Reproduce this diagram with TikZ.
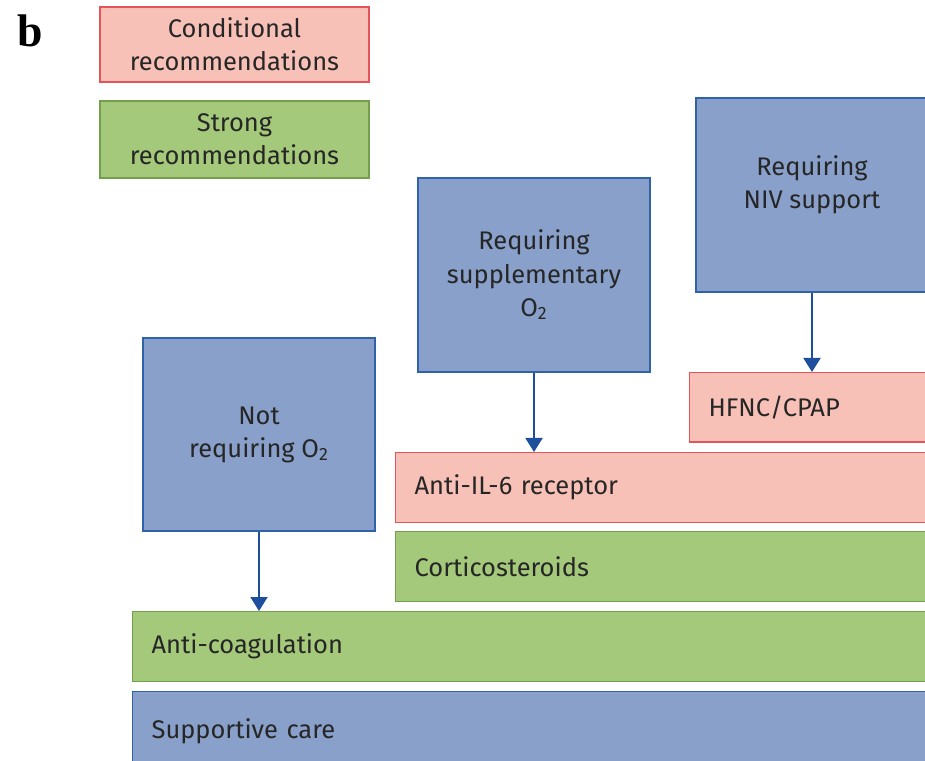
\documentclass[tikz,border=0pt]{standalone}
\usepackage{fontspec}
\setsansfont{Fira Sans}
\newfontfamily\panelfont{Liberation Serif}
\usepackage{tikz}
\usetikzlibrary{arrows.meta, positioning}
\definecolor{CondFill}{HTML}{F8C1B7}
\definecolor{CondLine}{HTML}{E5545A}
\definecolor{StrongFill}{HTML}{A5C97B}
\definecolor{StrongLine}{HTML}{74A04C}
\definecolor{GroupFill}{HTML}{88A0CA}
\definecolor{GroupLine}{HTML}{2F62A8}
\definecolor{ArrowBlue}{HTML}{1E4F9C}
\definecolor{TextDark}{HTML}{262626}

\tikzset{
  box/.style={rectangle, line width=0.7pt, text=TextDark, inner sep=0pt,
    font=\sffamily\fontsize{14.5}{18.8}\selectfont},
  condbox/.style={box, draw=CondLine, fill=CondFill},
  strongbox/.style={box, draw=StrongLine, fill=StrongFill},
  groupbox/.style={box, draw=GroupLine, fill=GroupFill},
  % wide boxes run off the right edge, text on the left
  widebox/.style={anchor=north west, align=left, inner xsep=0.38cm,
    text width=#1, minimum height=1.39cm},
  goesto/.style={draw=ArrowBlue, line width=1.1pt,
    -{Triangle[length=0.28cm, width=0.34cm]}}
}

\begin{document}
\begin{tikzpicture}
  \useasboundingbox (0,0) rectangle (18.5,-15.22);
  \clip (0,0) rectangle (18.5,-15.22);

  % panel letter
  \node (panel) at (0.6,-0.62) {\panelfont\fontsize{26}{28}\selectfont\textbf{b}};

  % key
  \node [condbox, minimum width=5.38cm, minimum height=1.5cm, align=center] (cond) at (4.69,-0.89) {Conditional\\recommendations};
  \node [strongbox, minimum width=5.38cm, minimum height=1.54cm, align=center] (strong) at (4.69,-2.79) {Strong\\recommendations};

  % patient groups
  \node [groupbox, minimum width=4.64cm, minimum height=3.88cm, align=center, text depth=0.5cm] (niv) at (16.24,-3.9) {Requiring\\NIV support};
  \node [groupbox, minimum width=4.64cm, minimum height=3.88cm, align=center] (supp) at (10.68,-5.5) {Requiring\\supplementary\\O\textsubscript{2}};
  \node [groupbox, minimum width=4.64cm, minimum height=3.86cm, align=center] (noox) at (5.18,-8.69) {Not\\requiring O\textsubscript{2}};

  % treatments
  \node [condbox, widebox=4.0cm] (hfnc) at (13.78,-7.44) {HFNC/CPAP};
  \node [condbox, widebox=10.0cm] (il6) at (7.9,-9.04) {Anti-IL-6 receptor};
  \node [strongbox, widebox=10.0cm] (cort) at (7.9,-10.62) {Corticosteroids};
  \node [strongbox, widebox=15.2cm] (coag) at (2.64,-12.22) {Anti-coagulation};
  \node [groupbox, widebox=15.2cm, minimum height=1.6cm] (care) at (2.64,-13.82) {Supportive care};

  % arrows
  \draw [goesto] (niv.south) -- (niv.south |- hfnc.north);
  \draw [goesto] (supp.south) -- (supp.south |- il6.north);
  \draw [goesto] (noox.south) -- (noox.south |- coag.north);
\end{tikzpicture}
\end{document}
